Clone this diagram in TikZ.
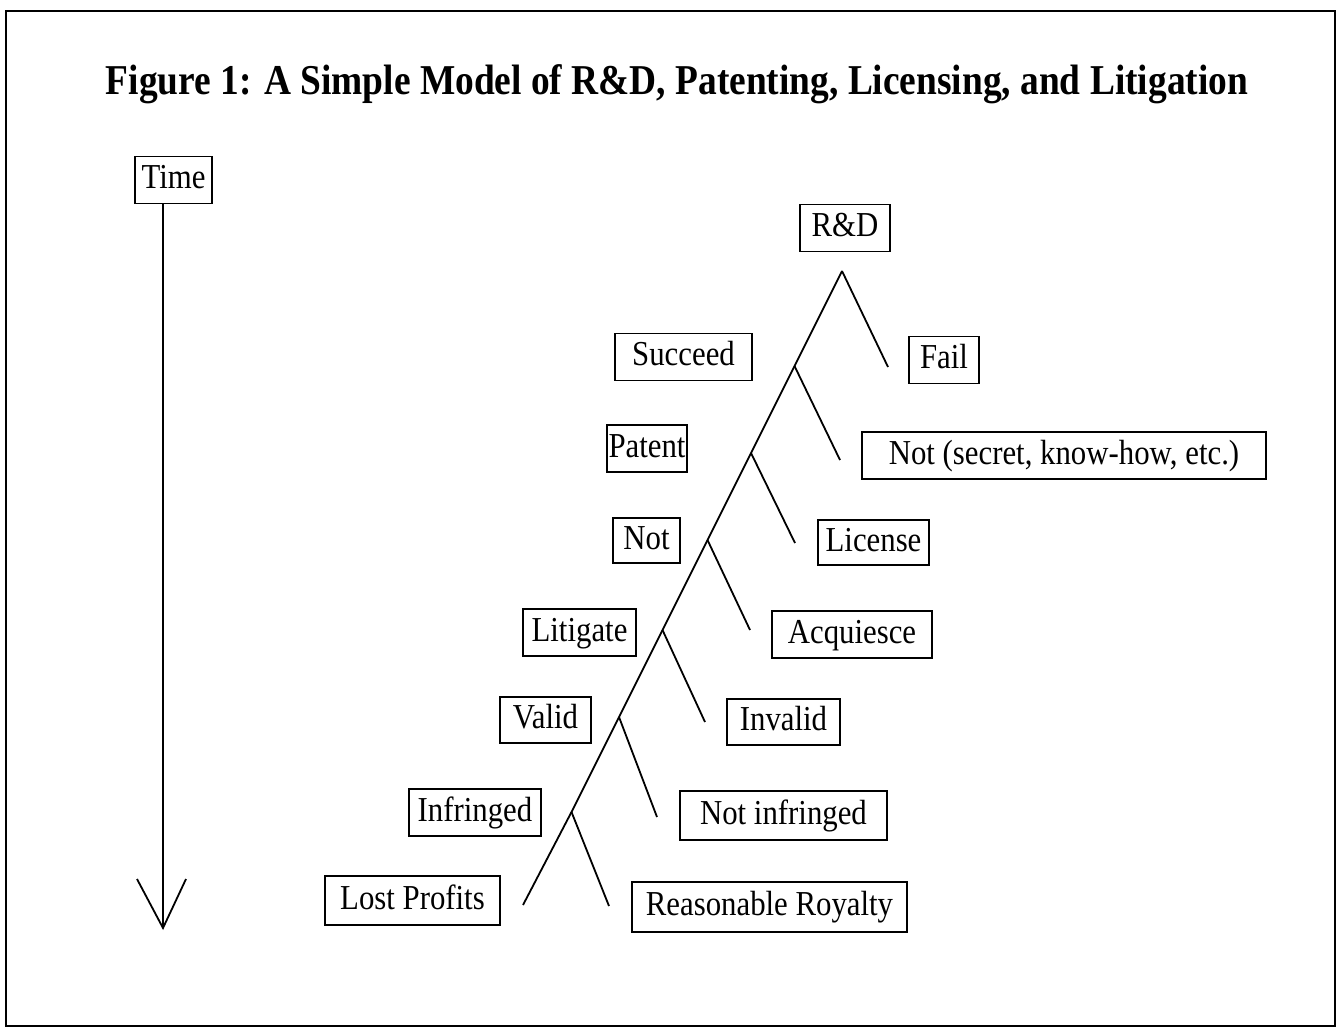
\documentclass[tikz,border=0pt]{standalone}
\usepackage{fontspec}
\setmainfont{Liberation Serif}[FakeStretch=0.88]
\begin{document}
\begin{tikzpicture}[x=1pt,y=-1pt,
  lbl/.style={draw, line width=1.6pt, inner sep=0pt, text height=24pt, text depth=7pt,
    minimum height=47pt, font=\fontsize{35}{36}\selectfont},
  branch/.style={line width=1.8pt},
  frame/.style={line width=2.6pt}]
\useasboundingbox (0,0) rectangle (1341,1033);
\draw[frame] (6,11) rectangle (1335,1026);
\node[font=\fontsize{42.5}{44}\selectfont\bfseries] (title) at (677,84) {Figure 1: A Simple Model of R\&D, Patenting, Licensing, and Litigation};
% time arrow
\node[lbl, minimum width=77pt] (time) at (173.5,180) {Time};
\coordinate (tip) at (163,928);
\coordinate (tl) at (137,879);
\coordinate (tr) at (186,879);
\draw[branch] (time.south -| tip) -- (tip);
\draw[branch] (tl) -- (tip) -- (tr);
% boxes
\node[lbl, minimum width=90pt] (rd) at (845,228) {R\&D};
\node[lbl, minimum width=137pt] (succeed) at (683.5,357) {Succeed};
\node[lbl, minimum width=70pt] (fail) at (944,360) {Fail};
\node[lbl, minimum width=80pt] (patent) at (647,448.5) {Patent};
\node[lbl, minimum width=404pt] (secret) at (1064,455.5) {Not (secret, know-how, etc.)};
\node[lbl, minimum width=67pt, minimum height=45pt] (notp) at (646.5,540.5) {Not};
\node[lbl, minimum width=111pt, minimum height=45pt] (license) at (873.5,542.5) {License};
\node[lbl, minimum width=113pt] (litigate) at (579.5,632.5) {Litigate};
\node[lbl, minimum width=160pt] (acq) at (852,634.5) {Acquiesce};
\node[lbl, minimum width=91pt, minimum height=46pt] (valid) at (545.5,720) {Valid};
\node[lbl, minimum width=113pt, minimum height=46pt] (invalid) at (783.5,722) {Invalid};
\node[lbl, minimum width=132pt] (infr) at (475,812.5) {Infringed};
\node[lbl, minimum width=207pt, minimum height=49pt] (notinfr) at (783.5,815.5) {Not infringed};
\node[lbl, minimum width=175pt, minimum height=49pt] (lost) at (412.5,900.5) {Lost Profits};
\node[lbl, minimum width=275pt, minimum height=50pt] (royalty) at (769.5,907) {Reasonable Royalty};
% tree
\coordinate (a0) at (842,271);
\coordinate (a1) at (794.5,366);
\coordinate (a2) at (751,453);
\coordinate (a3) at (707.5,540);
\coordinate (a4) at (662.5,630);
\coordinate (a5) at (619,717);
\coordinate (a6) at (571.5,812);
\coordinate (a7) at (523,905);
\coordinate (e0) at (888,367);
\coordinate (e1) at (840,460);
\coordinate (e2) at (795,543);
\coordinate (e3) at (750,630);
\coordinate (e4) at (705,722);
\coordinate (e5) at (657,817);
\coordinate (e6) at (609,906);
\draw[branch] (a0) -- (a1) -- (a2) -- (a3) -- (a4) -- (a5) -- (a6) -- (a7);
\draw[branch] (a0) -- (e0);
\draw[branch] (a1) -- (e1);
\draw[branch] (a2) -- (e2);
\draw[branch] (a3) -- (e3);
\draw[branch] (a4) -- (e4);
\draw[branch] (a5) -- (e5);
\draw[branch] (a6) -- (e6);
\end{tikzpicture}
\end{document}
